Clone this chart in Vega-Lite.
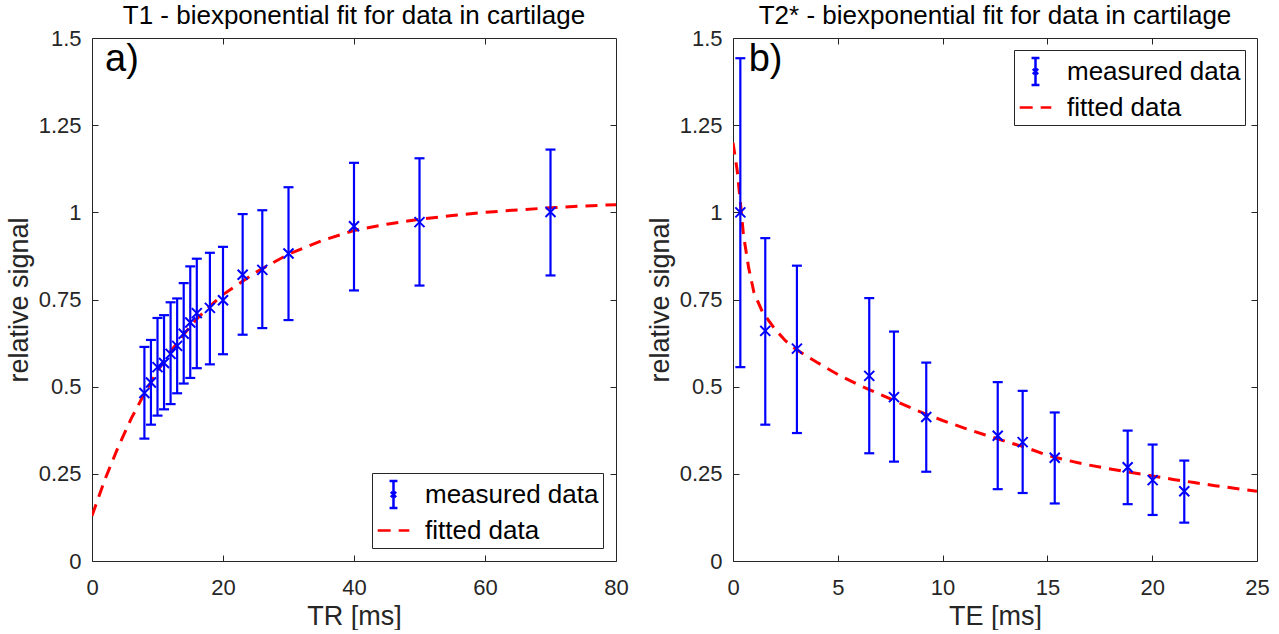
{
  "$schema": "https://vega.github.io/schema/vega-lite/v6.json",
  "padding": {"left": 4, "top": 2, "right": 5, "bottom": 0},
  "background": "white",
  "datasets": {
    "t1pts": [
      {"t": 8, "s": 0.482, "low": 0.351, "high": 0.614},
      {"t": 9, "s": 0.512, "low": 0.391, "high": 0.634},
      {"t": 10, "s": 0.556, "low": 0.417, "high": 0.697},
      {"t": 11, "s": 0.568, "low": 0.435, "high": 0.705},
      {"t": 12, "s": 0.594, "low": 0.45, "high": 0.742},
      {"t": 13, "s": 0.617, "low": 0.481, "high": 0.753},
      {"t": 14, "s": 0.652, "low": 0.509, "high": 0.797},
      {"t": 15, "s": 0.684, "low": 0.525, "high": 0.845},
      {"t": 16, "s": 0.711, "low": 0.553, "high": 0.867},
      {"t": 18, "s": 0.726, "low": 0.564, "high": 0.884},
      {"t": 20, "s": 0.748, "low": 0.593, "high": 0.901},
      {"t": 23, "s": 0.821, "low": 0.649, "high": 0.995},
      {"t": 26, "s": 0.835, "low": 0.668, "high": 1.006},
      {"t": 30, "s": 0.882, "low": 0.691, "high": 1.072},
      {"t": 40, "s": 0.96, "low": 0.776, "high": 1.142},
      {"t": 50, "s": 0.972, "low": 0.79, "high": 1.155},
      {"t": 70, "s": 1.001, "low": 0.819, "high": 1.18}
    ],
    "t1fit": [
      {"t": 0, "s": 0.13, "series": "fitted data"},
      {"t": 2, "s": 0.235, "series": "fitted data"},
      {"t": 4, "s": 0.327, "series": "fitted data"},
      {"t": 6, "s": 0.409, "series": "fitted data"},
      {"t": 8, "s": 0.48, "series": "fitted data"},
      {"t": 10, "s": 0.545, "series": "fitted data"},
      {"t": 12, "s": 0.601, "series": "fitted data"},
      {"t": 14, "s": 0.65, "series": "fitted data"},
      {"t": 16, "s": 0.694, "series": "fitted data"},
      {"t": 18, "s": 0.731, "series": "fitted data"},
      {"t": 20, "s": 0.764, "series": "fitted data"},
      {"t": 22, "s": 0.79, "series": "fitted data"},
      {"t": 25, "s": 0.828, "series": "fitted data"},
      {"t": 30, "s": 0.88, "series": "fitted data"},
      {"t": 35, "s": 0.918, "series": "fitted data"},
      {"t": 40, "s": 0.948, "series": "fitted data"},
      {"t": 45, "s": 0.966, "series": "fitted data"},
      {"t": 50, "s": 0.98, "series": "fitted data"},
      {"t": 55, "s": 0.991, "series": "fitted data"},
      {"t": 60, "s": 1.0, "series": "fitted data"},
      {"t": 65, "s": 1.007, "series": "fitted data"},
      {"t": 70, "s": 1.013, "series": "fitted data"},
      {"t": 75, "s": 1.018, "series": "fitted data"},
      {"t": 80, "s": 1.022, "series": "fitted data"}
    ],
    "t2pts": [
      {"t": 0.35, "s": 1.0, "low": 0.556, "high": 1.442},
      {"t": 1.54, "s": 0.66, "low": 0.391, "high": 0.926},
      {"t": 3.05, "s": 0.609, "low": 0.367, "high": 0.847},
      {"t": 6.5, "s": 0.531, "low": 0.309, "high": 0.754},
      {"t": 7.68, "s": 0.47, "low": 0.285, "high": 0.658},
      {"t": 9.22, "s": 0.413, "low": 0.256, "high": 0.569},
      {"t": 12.63, "s": 0.359, "low": 0.206, "high": 0.513},
      {"t": 13.82, "s": 0.341, "low": 0.195, "high": 0.488},
      {"t": 15.35, "s": 0.296, "low": 0.165, "high": 0.426},
      {"t": 18.83, "s": 0.269, "low": 0.163, "high": 0.374},
      {"t": 20.02, "s": 0.232, "low": 0.132, "high": 0.334},
      {"t": 21.53, "s": 0.2, "low": 0.11, "high": 0.288}
    ],
    "t2fit": [
      {"t": 0, "s": 1.2, "series": "fitted data"},
      {"t": 0.1, "s": 1.16, "series": "fitted data"},
      {"t": 0.2, "s": 1.12, "series": "fitted data"},
      {"t": 0.35, "s": 1.03, "series": "fitted data"},
      {"t": 0.5, "s": 0.935, "series": "fitted data"},
      {"t": 0.75, "s": 0.84, "series": "fitted data"},
      {"t": 1.0, "s": 0.77, "series": "fitted data"},
      {"t": 1.4, "s": 0.715, "series": "fitted data"},
      {"t": 2, "s": 0.665, "series": "fitted data"},
      {"t": 2.5, "s": 0.632, "series": "fitted data"},
      {"t": 3, "s": 0.607, "series": "fitted data"},
      {"t": 4, "s": 0.57, "series": "fitted data"},
      {"t": 5, "s": 0.535, "series": "fitted data"},
      {"t": 6, "s": 0.505, "series": "fitted data"},
      {"t": 7, "s": 0.478, "series": "fitted data"},
      {"t": 8, "s": 0.452, "series": "fitted data"},
      {"t": 9, "s": 0.426, "series": "fitted data"},
      {"t": 10, "s": 0.403, "series": "fitted data"},
      {"t": 11, "s": 0.382, "series": "fitted data"},
      {"t": 12, "s": 0.362, "series": "fitted data"},
      {"t": 13, "s": 0.343, "series": "fitted data"},
      {"t": 14, "s": 0.325, "series": "fitted data"},
      {"t": 15, "s": 0.303, "series": "fitted data"},
      {"t": 16, "s": 0.288, "series": "fitted data"},
      {"t": 17, "s": 0.275, "series": "fitted data"},
      {"t": 18, "s": 0.264, "series": "fitted data"},
      {"t": 19, "s": 0.254, "series": "fitted data"},
      {"t": 20, "s": 0.244, "series": "fitted data"},
      {"t": 21, "s": 0.234, "series": "fitted data"},
      {"t": 22, "s": 0.225, "series": "fitted data"},
      {"t": 23, "s": 0.216, "series": "fitted data"},
      {"t": 24, "s": 0.208, "series": "fitted data"},
      {"t": 25, "s": 0.2, "series": "fitted data"}
    ]
  },
  "hconcat": [
    {
      "width": 524,
      "height": 523,
      "title": {"text": "T1 - biexponential fit for data in cartilage"},
      "resolve": {"axis": {"x": "independent", "y": "independent"}},
      "layer": [
        {
          "data": {"name": "t1fit"},
          "mark": {"type": "line", "strokeWidth": 3, "strokeDash": [12, 8], "clip": true},
          "encoding": {
            "x": {"field": "t", "type": "quantitative", "scale": {"domain": [0, 80], "nice": false, "zero": false},
                  "axis": {"orient": "bottom", "values": [0, 20, 40, 60, 80], "title": "TR [ms]"}},
            "y": {"field": "s", "type": "quantitative", "scale": {"domain": [0, 1.5], "nice": false},
                  "axis": {"orient": "left", "values": [0, 0.25, 0.5, 0.75, 1, 1.25, 1.5], "labelExpr": "toString(datum.value)", "title": "relative signal"}},
            "color": {"field": "series", "type": "nominal",
                      "scale": {"domain": ["measured data", "fitted data"], "range": ["#0000FF", "#FF0000"]},
                      "legend": {"orient": "bottom-right", "offset": 13,
                                 "encode": {"symbols": {"update": {
                                   "shape": {"signal": "datum.value === 'measured data' ? 'M0,-0.85L0,0.85M-0.25,-0.85L0.25,-0.85M-0.25,0.85L0.25,0.85M-0.17,-0.17L0.17,0.17M-0.17,0.17L0.17,-0.17' : 'stroke'"},
                                   "strokeDash": {"signal": "datum.value === 'fitted data' ? [13, 8] : [1, 0]"},
                                   "fill": {"value": "transparent"}
                                 }}}}}
          }
        },
        {
          "data": {"name": "t1pts"},
          "mark": {"type": "rule", "color": "#0000FF", "strokeWidth": 2.2},
          "encoding": {
            "x": {"field": "t", "type": "quantitative", "scale": {"domain": [0, 80], "nice": false, "zero": false}, "axis": null},
            "y": {"field": "low", "type": "quantitative", "scale": {"domain": [0, 1.5], "nice": false}, "axis": null},
            "y2": {"field": "high"}
          }
        },
        {
          "data": {"name": "t1pts"},
          "mark": {"type": "tick", "orient": "horizontal", "color": "#0000FF", "size": 10, "thickness": 2.2, "opacity": 1},
          "encoding": {
            "x": {"field": "t", "type": "quantitative", "scale": {"domain": [0, 80], "nice": false, "zero": false}, "axis": null},
            "y": {"field": "low", "type": "quantitative", "scale": {"domain": [0, 1.5], "nice": false}, "axis": null}
          }
        },
        {
          "data": {"name": "t1pts"},
          "mark": {"type": "tick", "orient": "horizontal", "color": "#0000FF", "size": 10, "thickness": 2.2, "opacity": 1},
          "encoding": {
            "x": {"field": "t", "type": "quantitative", "scale": {"domain": [0, 80], "nice": false, "zero": false}, "axis": null},
            "y": {"field": "high", "type": "quantitative", "scale": {"domain": [0, 1.5], "nice": false}, "axis": null}
          }
        },
        {
          "data": {"name": "t1pts"},
          "mark": {"type": "point", "shape": "M-1,-1L1,1M-1,1L1,-1", "size": 100, "filled": false, "color": "#0000FF", "strokeWidth": 2, "opacity": 1},
          "encoding": {
            "x": {"field": "t", "type": "quantitative", "scale": {"domain": [0, 80], "nice": false, "zero": false}, "axis": null},
            "y": {"field": "s", "type": "quantitative", "scale": {"domain": [0, 1.5], "nice": false}, "axis": null}
          }
        },
        {
          "data": {"values": [{"label": "a)"}]},
          "mark": {"type": "text", "fontSize": 38, "align": "left", "baseline": "middle", "font": "Liberation Sans", "color": "black"},
          "encoding": {
            "text": {"field": "label"},
            "x": {"datum": 2, "type": "quantitative", "scale": {"domain": [0, 80], "nice": false, "zero": false},
                  "axis": {"orient": "top", "values": [20, 40, 60], "labels": false, "title": null}},
            "y": {"datum": 1.437, "type": "quantitative", "scale": {"domain": [0, 1.5], "nice": false},
                  "axis": {"orient": "right", "values": [0.25, 0.5, 0.75, 1, 1.25], "labels": false, "title": null}}
          }
        }
      ]
    },
    {
      "width": 524,
      "height": 523,
      "title": {"text": "T2* - biexponential fit for data in cartilage"},
      "resolve": {"axis": {"x": "independent", "y": "independent"}},
      "layer": [
        {
          "data": {"name": "t2fit"},
          "mark": {"type": "line", "strokeWidth": 3, "strokeDash": [12, 8], "clip": true},
          "encoding": {
            "x": {"field": "t", "type": "quantitative", "scale": {"domain": [0, 25], "nice": false, "zero": false},
                  "axis": {"orient": "bottom", "values": [0, 5, 10, 15, 20, 25], "title": "TE [ms]"}},
            "y": {"field": "s", "type": "quantitative", "scale": {"domain": [0, 1.5], "nice": false},
                  "axis": {"orient": "left", "values": [0, 0.25, 0.5, 0.75, 1, 1.25, 1.5], "labelExpr": "toString(datum.value)", "title": "relative signal"}},
            "color": {"field": "series", "type": "nominal",
                      "scale": {"domain": ["measured data", "fitted data"], "range": ["#0000FF", "#FF0000"]},
                      "legend": {"orient": "top-right", "offset": 12,
                                 "encode": {"symbols": {"update": {
                                   "shape": {"signal": "datum.value === 'measured data' ? 'M0,-0.85L0,0.85M-0.25,-0.85L0.25,-0.85M-0.25,0.85L0.25,0.85M-0.17,-0.17L0.17,0.17M-0.17,0.17L0.17,-0.17' : 'stroke'"},
                                   "strokeDash": {"signal": "datum.value === 'fitted data' ? [13, 8] : [1, 0]"},
                                   "fill": {"value": "transparent"}
                                 }}}}}
          }
        },
        {
          "data": {"name": "t2pts"},
          "mark": {"type": "rule", "color": "#0000FF", "strokeWidth": 2.2},
          "encoding": {
            "x": {"field": "t", "type": "quantitative", "scale": {"domain": [0, 25], "nice": false, "zero": false}, "axis": null},
            "y": {"field": "low", "type": "quantitative", "scale": {"domain": [0, 1.5], "nice": false}, "axis": null},
            "y2": {"field": "high"}
          }
        },
        {
          "data": {"name": "t2pts"},
          "mark": {"type": "tick", "orient": "horizontal", "color": "#0000FF", "size": 10, "thickness": 2.2, "opacity": 1},
          "encoding": {
            "x": {"field": "t", "type": "quantitative", "scale": {"domain": [0, 25], "nice": false, "zero": false}, "axis": null},
            "y": {"field": "low", "type": "quantitative", "scale": {"domain": [0, 1.5], "nice": false}, "axis": null}
          }
        },
        {
          "data": {"name": "t2pts"},
          "mark": {"type": "tick", "orient": "horizontal", "color": "#0000FF", "size": 10, "thickness": 2.2, "opacity": 1},
          "encoding": {
            "x": {"field": "t", "type": "quantitative", "scale": {"domain": [0, 25], "nice": false, "zero": false}, "axis": null},
            "y": {"field": "high", "type": "quantitative", "scale": {"domain": [0, 1.5], "nice": false}, "axis": null}
          }
        },
        {
          "data": {"name": "t2pts"},
          "mark": {"type": "point", "shape": "M-1,-1L1,1M-1,1L1,-1", "size": 100, "filled": false, "color": "#0000FF", "strokeWidth": 2, "opacity": 1},
          "encoding": {
            "x": {"field": "t", "type": "quantitative", "scale": {"domain": [0, 25], "nice": false, "zero": false}, "axis": null},
            "y": {"field": "s", "type": "quantitative", "scale": {"domain": [0, 1.5], "nice": false}, "axis": null}
          }
        },
        {
          "data": {"values": [{"label": "b)"}]},
          "mark": {"type": "text", "fontSize": 38, "align": "left", "baseline": "middle", "font": "Liberation Sans", "color": "black"},
          "encoding": {
            "text": {"field": "label"},
            "x": {"datum": 0.75, "type": "quantitative", "scale": {"domain": [0, 25], "nice": false, "zero": false},
                  "axis": {"orient": "top", "values": [5, 10, 15, 20], "labels": false, "title": null}},
            "y": {"datum": 1.437, "type": "quantitative", "scale": {"domain": [0, 1.5], "nice": false},
                  "axis": {"orient": "right", "values": [0.25, 0.5, 0.75, 1, 1.25], "labels": false, "title": null}}
          }
        }
      ]
    }
  ],
  "config": {
    "font": "Liberation Sans",
    "concat": {"spacing": 16},
    "view": {"stroke": "#262626", "strokeWidth": 1},
    "title": {"font": "Liberation Sans", "fontSize": 26, "fontWeight": "normal", "color": "black", "offset": -2, "anchor": "middle"},
    "axis": {
      "domain": false, "grid": false,
      "tickColor": "#262626", "tickSize": -6, "tickWidth": 1,
      "labelFont": "Liberation Sans", "labelFontSize": 22, "labelColor": "#262626",
      "labelFlush": false, "labelOverlap": false,
      "titleFont": "Liberation Sans", "titleFontSize": 27, "titleFontWeight": "normal", "titleColor": "#262626",
      "titlePadding": 5
    },
    "axisX": {"labelPadding": 22},
    "axisY": {"labelPadding": 17},
    "legend": {
      "title": null,
      "labelFont": "Liberation Sans", "labelFontSize": 26, "labelColor": "black", "labelLimit": 0,
      "symbolSize": 1000, "symbolStrokeWidth": 2.5, "labelOffset": 14,
      "padding": 4, "rowPadding": 0,
      "strokeColor": "#262626", "fillColor": "white", "cornerRadius": 0
    }
  }
}
